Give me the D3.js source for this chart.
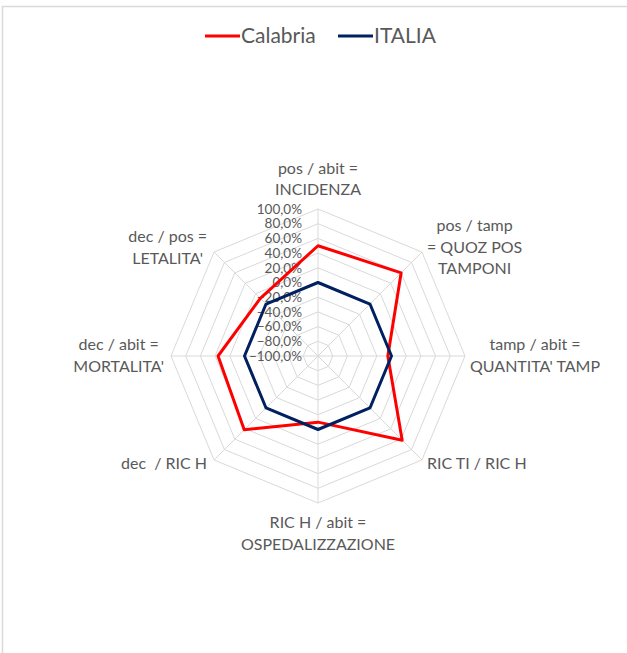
<!DOCTYPE html>
<html>
<head>
<meta charset="utf-8">
<script src="https://cdn.jsdelivr.net/npm/d3@7"></script>
<style>
  body { margin: 0; background: #fff; }
  svg { display: block; font-family: Lato, "Open Sans", sans-serif; }
  text { white-space: pre; }
</style>
</head>
<body>
<svg id="chart"></svg>
<script>
// axis labels (one entry per spoke, clockwise from top)
const axisLabels = [
  ["pos / abit =", "INCIDENZA"],
  ["pos / tamp", "= QUOZ POS", "TAMPONI"],
  ["tamp / abit =", "QUANTITA' TAMP"],
  ["RIC TI / RIC H"],
  ["RIC H / abit =", "OSPEDALIZZAZIONE"],
  ["dec  / RIC H"],
  ["dec / abit =", "MORTALITA'"],
  ["dec / pos =", "LETALITA'"]
];
const calabria = [0.50, 0.60, -0.05, 0.62, -0.10, 0.42, 0.36, 0.11];
const italia = [0, 0, 0, 0, 0, 0, 0, 0];
const tickValues = [-1, -0.8, -0.6, -0.4, -0.2, 0, 0.2, 0.4, 0.6, 0.8, 1];
const seriesNames = ["Calabria", "ITALIA"];
const seriesColors = ["#ff0000", "#002060"];

const width = 627, height = 653;
const cx = 318, cy = 356, radius = 147;

const locale = d3.formatLocale({decimal: ",", thousands: ".", grouping: [3], currency: ["", "€"]});
const fmt = locale.format(".1%");

const svg = d3.select("#chart").attr("width", width).attr("height", height);

// chart area border
svg.append("rect")
  .attr("x", 2.5).attr("y", 6.5)
  .attr("width", width + 10).attr("height", height + 10)
  .attr("fill", "none").attr("stroke", "#d9d9d9").attr("stroke-width", 1.5);

const r = d3.scaleLinear().domain([-1, 1]).range([0, radius]);
const n = axisLabels.length;
const angle = i => i * 2 * Math.PI / n;
const pt = (i, v) => [cx + r(v) * Math.sin(angle(i)), cy - r(v) * Math.cos(angle(i))];

const g = svg.append("g");

// rings
g.selectAll("polygon.ring")
  .data(tickValues.slice(1))
  .enter().append("polygon")
  .attr("class", "ring")
  .attr("points", v => d3.range(n).map(i => pt(i, v).join(",")).join(" "))
  .attr("fill", "none").attr("stroke", "#d9d9d9").attr("stroke-width", 1);

// spokes
g.selectAll("line.spoke")
  .data(d3.range(n))
  .enter().append("line")
  .attr("class", "spoke")
  .attr("x1", cx).attr("y1", cy)
  .attr("x2", i => pt(i, 1)[0]).attr("y2", i => pt(i, 1)[1])
  .attr("stroke", "#d9d9d9").attr("stroke-width", 1);

// tick labels along the top spoke
g.selectAll("text.tick")
  .data(tickValues)
  .enter().append("text")
  .attr("class", "tick")
  .attr("x", cx - 16)
  .attr("y", v => cy - r(v))
  .attr("dy", "0.35em")
  .attr("text-anchor", "end")
  .attr("font-size", 13.5)
  .attr("fill", "#595959")
  .text(v => fmt(v));

// axis labels
const lineH = 21.5;
axisLabels.forEach((lines, i) => {
  const [vx, vy] = pt(i, 1);
  const a = angle(i);
  const s = Math.sin(a), c = Math.cos(a);
  const t = g.append("text")
    .attr("font-size", 16)
    .attr("fill", "#595959")
    .attr("text-anchor", "middle");
  lines.forEach((l, k) => t.append("tspan").attr("x", 0).attr("dy", k === 0 ? 0 : lineH).text(l));
  const w = d3.max(t.selectAll("tspan").nodes(), d => d.getComputedTextLength());
  const blockH = (lines.length - 1) * lineH;
  let x, y;
  if (Math.abs(s) < 0.01) {
    x = vx;
    y = c > 0 ? vy - 14 - blockH : vy + 25;
  } else if (s > 0) {
    x = vx + 5 + w / 2;
    y = vy - blockH / 2 + 5 - c * 6;
  } else {
    x = vx - 7 - w / 2;
    y = vy - blockH / 2 + 5 - c * 6;
  }
  t.attr("transform", `translate(${x},${y})`);
});

// series
const line = d3.line().curve(d3.curveLinearClosed);
[calabria, italia].forEach((vals, si) => {
  g.append("path")
    .attr("d", line(vals.map((v, i) => pt(i, v))))
    .attr("fill", "none")
    .attr("stroke", seriesColors[si])
    .attr("stroke-width", 3)
    .attr("stroke-linejoin", "round");
});

// legend
const legend = svg.append("g");
const legendX = [205, 338];
seriesNames.forEach((name, si) => {
  legend.append("line")
    .attr("x1", legendX[si]).attr("x2", legendX[si] + 35)
    .attr("y1", 36).attr("y2", 36)
    .attr("stroke", seriesColors[si]).attr("stroke-width", 3);
  legend.append("text")
    .attr("x", legendX[si] + 36).attr("y", 36)
    .attr("dy", "0.35em")
    .attr("font-size", 21)
    .attr("fill", "#595959")
    .text(name);
});
</script>
</body>
</html>
